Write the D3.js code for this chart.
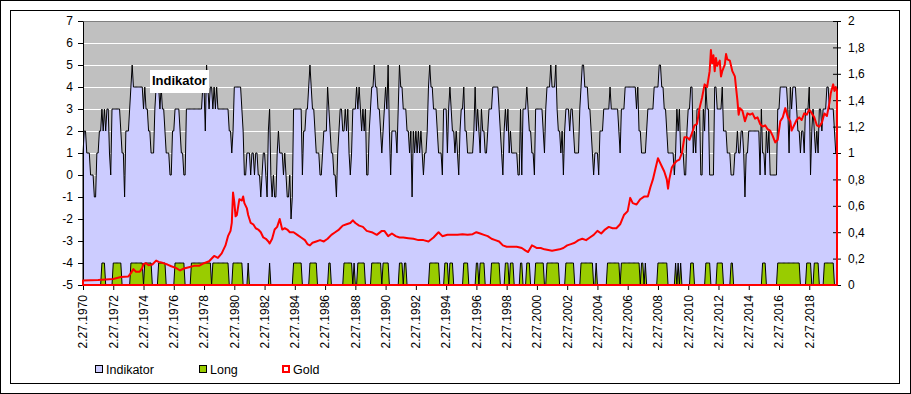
<!DOCTYPE html>
<html>
<head>
<meta charset="utf-8">
<script src="https://cdnjs.cloudflare.com/ajax/libs/d3/7.8.5/d3.min.js"></script>
<style>
  body { margin: 0; background: #fff; }
  svg { display: block; font-family: Arial, "Liberation Sans", sans-serif; }
</style>
</head>
<body>
<svg id="chart" width="911" height="394"></svg>
<script>

// monthly values, one row per year (Feb .. Jan), first month 2.27.1970
var indikator = [
  1,2,2,1,1,1,0,0,0,-1,-1,1,      // 1970
  1,2,2,3,2,3,2,3,3,1,0,3,        // 1971
  3,3,3,3,3,3,2,1,1,-1,2,2,       // 1972
  2,3,4,5,4,4,4,4,4,4,4,4,        // 1973
  3,4,3,3,2,2,1,1,1,3,4,4,        // 1974
  4,3,4,3,3,2,1,1,1,0,0,2,        // 1975
  2,3,3,3,3,2,1,1,0,0,3,3,        // 1976
  3,3,3,3,3,3,3,3,3,3,3,4,        // 1977
  4,2,5,4,3,4,4,3,4,3,4,3,        // 1978
  3,3,3,3,3,3,3,3,2,2,1,2,        // 1979
  4,4,4,4,4,4,3,2,0,0,1,1,        // 1980
  1,0,1,1,0,1,1,0,0,-1,0,1,       // 1981
  1,0,-1,2,3,0,-1,0,-1,-1,1,2,    // 1982
  1,1,1,0,1,0,-1,-1,0,-2,-1,3,    // 1983
  3,3,3,3,3,3,0,2,2,3,3,4,        // 1984
  5,4,3,3,2,1,1,1,0,0,1,2,        // 1985
  2,2,4,3,2,1,1,0,0,-1,1,2,       // 1986
  3,3,2,2,3,2,3,1,0,1,3,3,        // 1987
  3,4,3,4,3,2,3,2,3,0,0,2,        // 1988
  3,4,4,5,4,4,3,3,2,1,2,3,        // 1989
  4,3,5,2,0,2,2,2,2,1,3,5,        // 1990
  4,4,3,3,3,2,2,1,2,-1,2,1,       // 1991
  2,1,2,1,2,1,0,1,1,2,4,5,        // 1992
  4,4,3,3,3,2,1,1,1,0,3,3,        // 1993
  3,1,3,4,3,2,2,1,2,1,0,2,        // 1994
  3,3,4,2,2,1,1,1,1,1,2,4,        // 1995
  2,3,2,1,3,2,2,1,1,2,3,3,        // 1996
  3,4,4,4,4,4,3,2,1,0,2,3,        // 1997
  2,3,1,2,1,1,1,1,1,0,0,3,        // 1998
  0,3,3,3,4,3,2,2,1,1,0,3,        // 1999
  3,3,3,3,3,2,1,3,4,4,4,5,        // 2000
  4,4,4,5,3,2,2,1,2,0,2,3,        // 2001
  3,3,2,3,3,2,1,1,1,1,3,4,        // 2002
  5,5,4,4,4,3,3,2,1,0,1,1,        // 2003
  1,0,2,2,2,3,3,3,3,3,4,3,        // 2004
  3,3,3,3,3,2,1,3,3,3,4,4,        // 2005
  4,4,4,4,4,4,4,3,4,2,2,1,        // 2006
  1,1,1,2,3,3,3,3,3,4,4,4,        // 2007
  4,5,5,4,4,3,3,2,1,1,1,1,        // 2008
  1,0,1,3,2,3,1,1,1,0,0,2,        // 2009
  3,3,4,4,1,2,1,3,3,3,0,0,        // 2010
  3,2,4,3,3,0,0,0,0,4,4,3,        // 2011
  3,3,3,4,2,2,2,1,1,1,0,0,        // 2012
  0,1,1,2,1,1,2,2,1,-1,1,1,       // 2013
  2,2,2,2,2,2,2,2,2,0,3,1,        // 2014
  1,0,2,1,2,0,0,0,0,0,0,3,        // 2015
  3,4,4,4,4,4,4,3,1,4,3,4,        // 2016
  4,4,3,2,2,1,2,2,1,3,3,3,        // 2017
  4,0,2,3,2,1,2,1,3,3,2,3,        // 2018
  3,3,4,4,3,3,3,3,2,1,1           // 2019
];

// months (index from 2.1970) where Long is on, first and last month of each period
var longRuns = [
  [15,17],[24,30],[38,47],[49,54],[60,65],[73,80],[86,101],[103,115],[119,126],[131,131],
  [148,148],[167,173],[180,185],[195,196],[207,213],[215,215],[218,223],[229,236],[238,242],
  [251,253],[255,256],[275,282],[287,289],[291,293],[302,305],[312,313],[315,318],[324,330],
  [335,337],[339,341],[347,348],[352,354],[359,365],[368,377],[383,389],[395,404],[407,407],
  [416,425],[427,441],[443,444],[446,446],[456,463],[470,470],[472,472],[474,474],[482,484],
  [494,497],[503,507],[514,515],[539,541],[551,568],[574,577],[580,583],[588,595]
];

// gold (right axis), month index from 2.1970 and value
var goldMonth = [
  0,12,24,30,36,38,40,42,45,47,48,50,52,55,58,60,63,67,70,74,77,80,84,88,92,96,100,104,107,110,
  113,115,117,118,119,120,121,122,124,126,127,128,130,131,133,135,137,139,141,143,145,147,148,150,
  152,154,156,158,160,162,164,167,170,173,176,178,180,182,185,188,191,194,197,200,203,206,209,212,
  214,216,219,222,225,229,233,237,239,242,245,248,251,254,258,262,266,270,274,278,281,282,285,289,
  293,297,301,305,309,312,315,318,321,324,327,330,333,336,340,344,348,351,353,356,358,360,363,366,
  369,372,375,378,381,384,387,390,393,396,399,402,405,408,411,414,417,420,423,426,429,432,434,436,
  439,442,445,448,450,452,454,456,457,459,461,463,464,465,467,469,471,473,475,477,479,481,483,485,
  487,489,491,493,495,497,498,499,500,501,502,503,505,506,507,509,510,511,513,515,517,518,519,520,
  521,523,525,527,529,531,533,535,537,539,541,543,545,547,549,551,553,555,557,559,561,562,564,566,
  568,570,572,574,576,578,580,582,584,586,588,590,592,593,595,596,597,598
];
var goldValue = [
  0.035,0.038,0.045,0.06,0.065,0.09,0.12,0.10,0.10,0.13,0.16,0.165,0.15,0.155,0.185,0.175,0.168,0.155,0.142,0.128,
  0.11,0.125,0.135,0.145,0.145,0.165,0.18,0.22,0.205,0.24,0.30,0.37,0.41,0.47,0.70,0.63,0.52,0.53,0.65,0.64,
  0.67,0.62,0.58,0.53,0.47,0.46,0.43,0.42,0.40,0.36,0.35,0.33,0.315,0.35,0.42,0.44,0.50,0.42,0.43,0.42,
  0.40,0.40,0.38,0.36,0.34,0.31,0.30,0.32,0.33,0.34,0.33,0.35,0.38,0.40,0.42,0.45,0.46,0.47,0.49,0.47,
  0.45,0.44,0.41,0.40,0.38,0.41,0.41,0.37,0.39,0.37,0.36,0.36,0.355,0.35,0.34,0.34,0.33,0.36,0.39,0.40,
  0.37,0.38,0.38,0.38,0.385,0.38,0.385,0.40,0.39,0.38,0.37,0.35,0.34,0.33,0.30,0.29,0.29,0.29,0.28,0.26,
  0.25,0.30,0.29,0.28,0.28,0.27,0.265,0.26,0.265,0.27,0.28,0.30,0.31,0.32,0.34,0.35,0.34,0.36,0.38,0.41,
  0.39,0.42,0.44,0.43,0.43,0.46,0.53,0.56,0.66,0.62,0.61,0.65,0.67,0.67,0.74,0.80,0.88,0.96,0.94,0.90,
  0.86,0.80,0.73,0.80,0.89,0.92,0.94,0.95,1.00,1.12,1.12,1.10,1.15,1.21,1.22,1.34,1.42,1.52,1.50,1.62,
  1.78,1.68,1.74,1.62,1.72,1.66,1.70,1.58,1.62,1.67,1.75,1.71,1.70,1.62,1.58,1.49,1.40,1.29,1.34,1.32,
  1.24,1.30,1.29,1.30,1.26,1.27,1.22,1.20,1.21,1.18,1.17,1.13,1.08,1.10,1.24,1.27,1.34,1.27,1.24,1.17,
  1.21,1.25,1.27,1.25,1.30,1.29,1.33,1.30,1.27,1.21,1.20,1.23,1.30,1.28,1.38,1.45,1.52,1.47,1.50,1.47
];

var tickLabels = ["2.27.1970","2.27.1972","2.27.1974","2.27.1976","2.27.1978","2.27.1980","2.27.1982",
  "2.27.1984","2.27.1986","2.27.1988","2.27.1990","2.27.1992","2.27.1994","2.27.1996","2.27.1998",
  "2.27.2000","2.27.2002","2.27.2004","2.27.2006","2.27.2008","2.27.2010","2.27.2012","2.27.2014",
  "2.27.2016","2.27.2018"];
var leftTicks = [-5,-4,-3,-2,-1,0,1,2,3,4,5,6,7];
var rightTicks = [0,0.2,0.4,0.6,0.8,1,1.2,1.4,1.6,1.8,2];
var seriesNames = ["Indikator", "Long", "Gold"];

var Chart = (function () {

  var colors = {
    "plot" : "#c0c0c0"
    ,"indikator" : "#ccccff"
    ,"long" : "#99cc00"
    ,"gold" : "#ff0000"
  };

  var left = 83, right = 837, top = 21, bottom = 285;

  // category labels m.27.yyyy, one per month
  var categories = indikator.map(function (d, i) {
    var m = i + 1;
    return (m % 12 + 1) + ".27." + (1970 + Math.floor(m / 12));
  });

  var longValues = indikator.map(function () { return -5; });
  longRuns.forEach(function (r) {
    for (var k = r[0]; k <= r[1]; k++) longValues[k] = -4;
  });

  // excel style: hyphen minus, decimal comma
  var commaFormat = function (d) { return String(+d.toFixed(1)).replace(".", ","); };

  return {
    Draw: function () {
      var svg = d3.select("#chart");

      var x = d3.scalePoint().domain(categories).range([left, right]);
      var yL = d3.scaleLinear().domain([-5, 7]).range([bottom, top]);
      var yR = d3.scaleLinear().domain([0, 2]).range([bottom, top]);

      // frames
      svg.append("rect").attr("x", 0.5).attr("y", 0.5).attr("width", 910).attr("height", 393)
        .attr("fill", "#fff").attr("stroke", "#000");
      svg.append("rect").attr("x", 10.5).attr("y", 10.5).attr("width", 889).attr("height", 373)
        .attr("fill", "#fff").attr("stroke", "#000");

      svg.append("rect").attr("x", left).attr("y", top).attr("width", right - left).attr("height", bottom - top)
        .attr("fill", colors.plot);
      svg.append("line").attr("x1", left).attr("x2", right).attr("y1", top + 0.5).attr("y2", top + 0.5)
        .attr("stroke", "#808080");

      svg.append("g").selectAll("line")
        .data(leftTicks.slice(1, -1))
        .enter().append("line")
        .attr("x1", left).attr("x2", right)
        .attr("y1", function (d) { return yL(d) + 0.5; })
        .attr("y2", function (d) { return yL(d) + 0.5; })
        .attr("stroke", "#fff");

      var indArea = d3.area()
        .x(function (d, i) { return x(categories[i]); })
        .y0(yL(-5))
        .y1(function (d) { return yL(d); });
      svg.append("path").datum(indikator).attr("d", indArea)
        .attr("fill", colors.indikator).attr("stroke", "#000").attr("stroke-width", 1);

      svg.append("path").datum(longValues).attr("d", indArea)
        .attr("fill", colors["long"]).attr("stroke", "#000").attr("stroke-width", 1);

      // axes
      var axL = svg.append("g").attr("transform", "translate(" + left + ",0)")
        .call(d3.axisLeft(yL).tickValues(leftTicks).tickFormat(function (d) { return String(d); })
          .tickSize(5).tickSizeOuter(0).tickPadding(5));
      var axR = svg.append("g").attr("transform", "translate(" + right + ",0)")
        .call(d3.axisRight(yR).tickValues(rightTicks).tickFormat(commaFormat).tickSize(4).tickSizeOuter(0).tickPadding(7));
      axR.selectAll(".tick line").attr("x1", -4).attr("x2", 4);
      var axB = svg.append("g").attr("transform", "translate(0," + bottom + ")")
        .call(d3.axisBottom(x).tickValues(tickLabels).tickSize(5).tickSizeOuter(0));
      axB.selectAll("text")
        .attr("transform", "rotate(-90)")
        .attr("x", -10).attr("y", 0).attr("dy", "0.32em")
        .attr("text-anchor", "end");

      [axL, axR, axB].forEach(function (ax) {
        ax.attr("font-family", null).attr("font-size", null);
        ax.selectAll("text").attr("font-size", "12px").attr("fill", "#000");
        ax.selectAll("line, path").attr("stroke", "#000");
      });

      var goldArea = d3.area()
        .x(function (d, i) { return x(categories[goldMonth[i]]); })
        .y0(yR(0))
        .y1(function (d) { return yR(d); });
      svg.append("path").datum(goldValue).attr("d", goldArea)
        .attr("fill", "none").attr("stroke", colors.gold).attr("stroke-width", 2)
        .attr("stroke-linejoin", "round");

      // series label
      svg.append("rect").attr("x", 150).attr("y", 70).attr("width", 59).attr("height", 23).attr("fill", "#fff");
      svg.append("text").attr("x", 152).attr("y", 85).attr("font-size", "13px").attr("font-weight", "bold")
        .attr("fill", "#000").text(seriesNames[0]);

      // legend
      var legend = svg.append("g").selectAll("g")
        .data(seriesNames)
        .enter().append("g")
        .attr("transform", function (d, i) { return "translate(" + [95, 199, 282][i] + ",365)"; });
      legend.append("rect")
        .attr("x", function (d, i) { return i == 2 ? 1 : 0.5; })
        .attr("y", function (d, i) { return i == 2 ? 1 : 0.5; })
        .attr("width", function (d, i) { return i == 2 ? 6 : 7; })
        .attr("height", function (d, i) { return i == 2 ? 6 : 7; })
        .attr("fill", function (d, i) { return [colors.indikator, colors["long"], "#fff"][i]; })
        .attr("stroke", function (d, i) { return i == 2 ? colors.gold : "#000"; })
        .attr("stroke-width", function (d, i) { return i == 2 ? 2 : 1; });
      legend.append("text")
        .attr("x", 11).attr("y", 8.5)
        .attr("font-size", "12.5px").attr("fill", "#000")
        .text(function (d) { return d; });
    }
  };
})();

Chart.Draw();
</script>
</body>
</html>
